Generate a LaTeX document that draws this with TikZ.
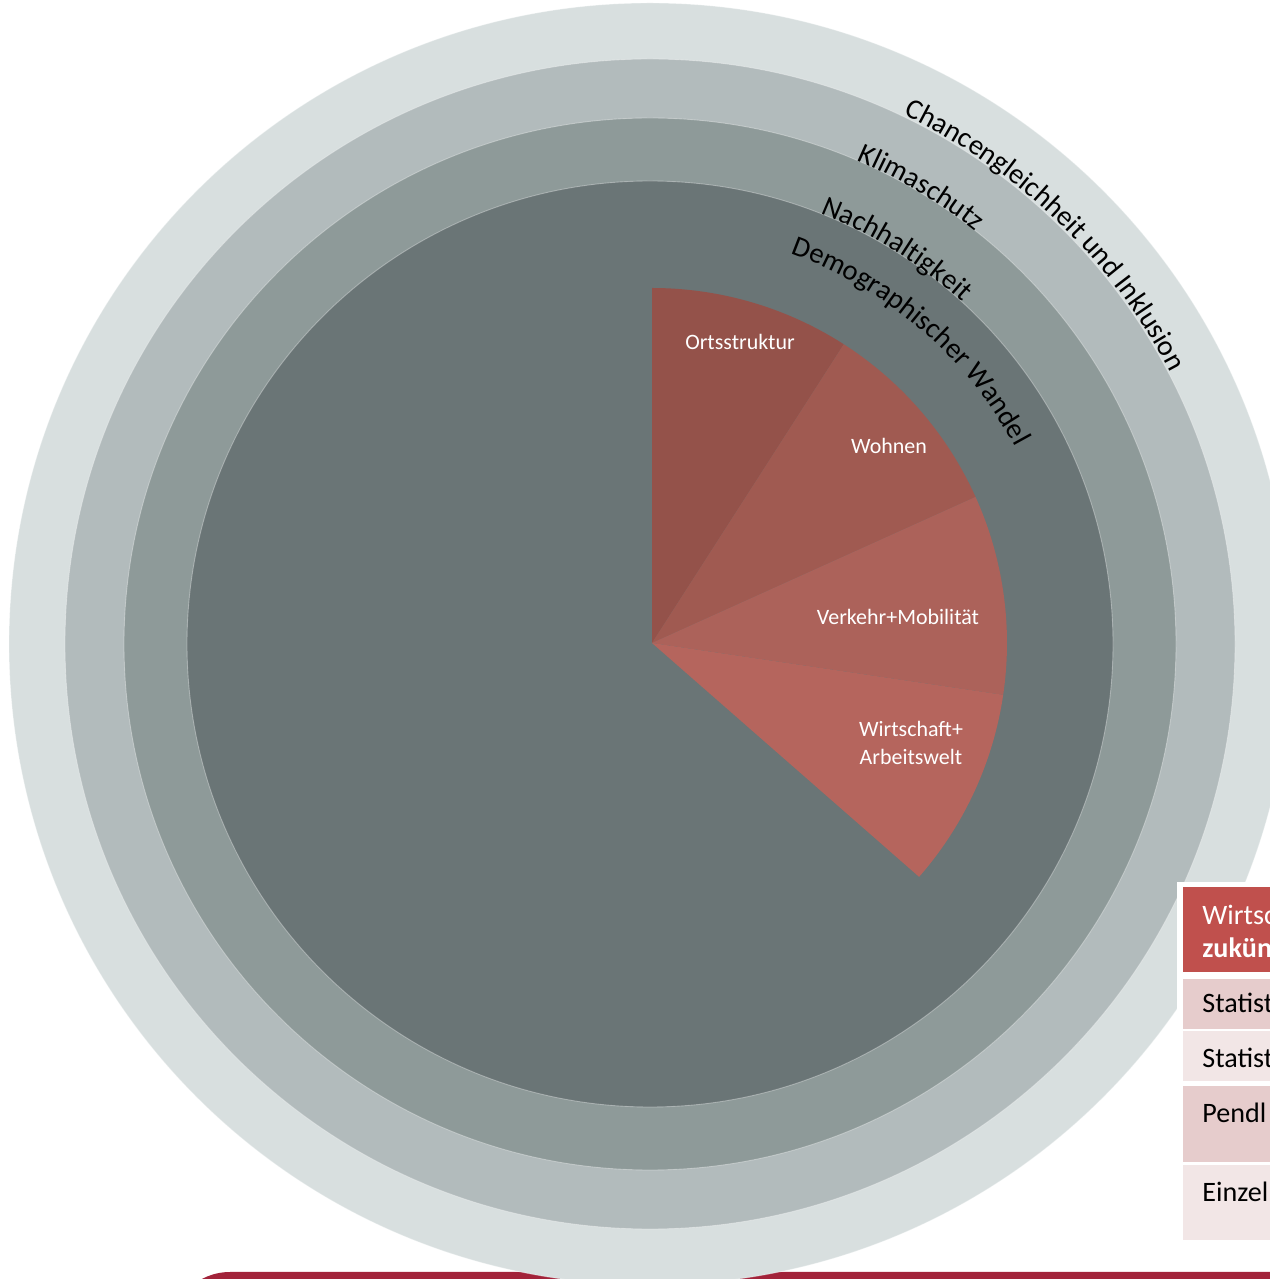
\documentclass[tikz,border=0pt]{standalone}
\usepackage{fontspec}
\setmainfont{Carlito}
\usetikzlibrary{decorations.text}
\definecolor{ringA}{HTML}{D8DFDF}
\definecolor{ringB}{HTML}{B2BBBC}
\definecolor{ringC}{HTML}{8E9A99}
\definecolor{ringD}{HTML}{6A7576}
\definecolor{wedgeA}{HTML}{94524A}
\definecolor{wedgeB}{HTML}{A05A51}
\definecolor{wedgeC}{HTML}{AC625A}
\definecolor{wedgeD}{HTML}{B5655D}
\definecolor{headred}{HTML}{C0504D}
\definecolor{rowdark}{HTML}{E6CCCC}
\definecolor{rowlight}{HTML}{F2E6E6}
\definecolor{barred}{HTML}{A2233A}
\newcommand{\ringfont}{\fontsize{16.3}{19}\selectfont}
\newcommand{\wedgefont}{\fontsize{12.5}{15.5}\selectfont}
\newcommand{\cellfont}{\fontsize{16}{19}\selectfont}
\tikzstyle{ring}=[draw=white, draw opacity=0.35, line width=0.5pt]
\tikzstyle{wedgelabel}=[text=white, font=\wedgefont, align=center, inner sep=0pt]
\tikzstyle{celllabel}=[anchor=west, font=\cellfont, inner sep=0pt]
\tikzset{ringlabel/.style={decorate, decoration={text along path, text align=center, text={|\ringfont|#1}}}}

\begin{document}
\begin{tikzpicture}[x=0.02cm, y=0.02cm]
    \useasboundingbox (0,0) rectangle (1270,1279);
    \clip (0,0) rectangle (1270,1279);
    \coordinate (c) at (650,635);
    \coordinate (w) at (652,636);

    % bar along the bottom edge, only its top left corner is round
    \fill[barred] (1300,-80) -- (170,-80) -- (170,-53) arc[start angle=180, end angle=90, radius=60] -- (1300,7) -- cycle;

    % First we draw the rings, outside in
    \foreach \r/\col in {641/ringA, 585/ringB, 526/ringC, 463/ringD}
        \path[ring, fill=\col] (c) circle[radius=\r];

    % the ring texts, clockwise so the letters face outward
    \foreach \mid/\r/\txt in {46/587/Chancengleichheit und Inklusion, 59.3/526/Klimaschutz, 58/463/Nachhaltigkeit, 49.3/415/Demographischer Wandel}
        \path[ringlabel=\txt] (c) ++(\mid+40:\r) arc[start angle=\mid+40, end angle=\mid-40, radius=\r];

    % the four sectors
    \foreach \from/\to/\col in {90/57.3/wedgeA, 57.3/24.3/wedgeB, 24.3/-8.4/wedgeC, -8.4/-41.2/wedgeD}
        \fill[\col] (w) -- ++(\from:355) arc[start angle=\from, end angle=\to, radius=355] -- cycle;

    \node[wedgelabel] (ort) at (740,937) {Ortsstruktur};
    \node[wedgelabel] (wohnen) at (889,833) {Wohnen};
    \node[wedgelabel] (verkehr) at (898,662) {Verkehr+Mobilität};
    \node[wedgelabel] (wirtschaft) at (911,536) {Wirtschaft+\\Arbeitswelt};

    % table at the right edge, cut off by the page
    \fill[white] (1177,397) rectangle (1280,34);
    \fill[headred] (1183,392) rectangle (1280,307);
    \foreach \top/\bot/\col in {300/250/rowdark, 248/198/rowlight, 193/117/rowdark, 114/39/rowlight}
        \fill[\col] (1183,\top) rectangle (1280,\bot);

    \node[celllabel, text=white] (head1) at (1202,364) {Wirtsc};
    \node[celllabel, text=white, font=\cellfont\bfseries] (head2) at (1202,331) {zukün};
    \node[celllabel] (row1) at (1202,276) {Statist};
    \node[celllabel] (row2) at (1202,221) {Statist};
    \node[celllabel] (row3) at (1202,166) {Pendl};
    \node[celllabel] (row4) at (1202,87) {Einzel};
\end{tikzpicture}
\end{document}
